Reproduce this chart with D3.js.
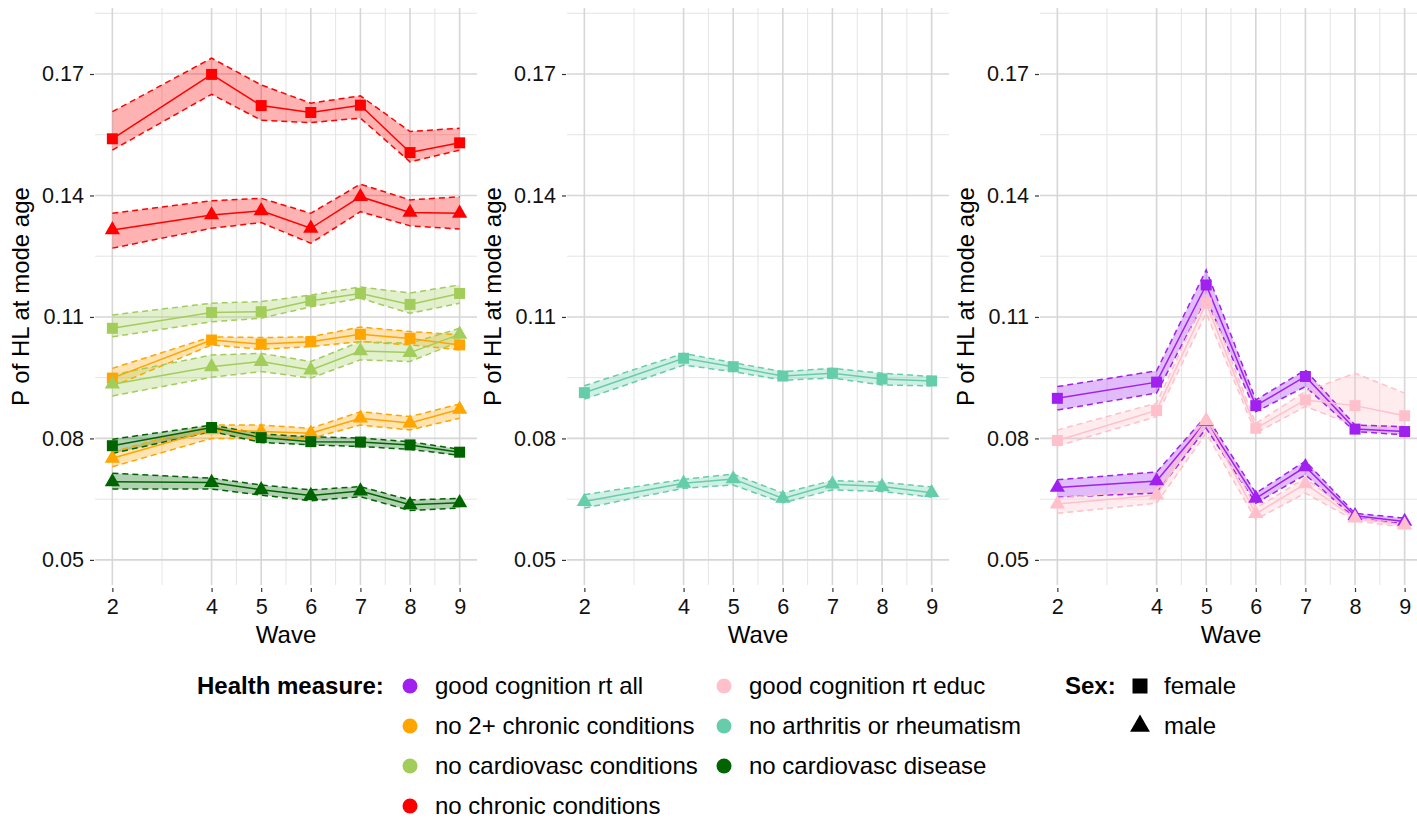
<!DOCTYPE html>
<html>
<head>
<meta charset="utf-8">
<script src="https://cdn.jsdelivr.net/npm/d3@7"></script>
<style>
  body { margin: 0; background: #fff; }
  text { font-family: "Liberation Sans", Arial, sans-serif; fill: #000; }
</style>
</head>
<body>
<div id="chart"></div>
<script>
var width = 1417, height = 822;

// data
var waves = [2, 4, 5, 6, 7, 8, 9];
var minorWaves = [3, 4.5, 5.5, 6.5, 7.5, 8.5];
var yTicks = [0.05, 0.08, 0.11, 0.14, 0.17];
var yMinor = [0.065, 0.095, 0.125, 0.155, 0.185];

var measureNames = ["good cognition rt all", "good cognition rt educ", "no 2+ chronic conditions",
  "no arthritis or rheumatism", "no cardiovasc conditions", "no cardiovasc disease", "no chronic conditions"];
var measureColors = ["#A020F0", "#FFC0CB", "#FFA500", "#66CDAA", "#A2CD5A", "#006400", "#FF0000"];
var sexNames = ["female", "male"];

// panel 1
var no2ChronicF   = [0.0949, 0.1043, 0.1033, 0.1039, 0.1057, 0.1047, 0.1031];
var no2ChronicFLo = [0.0928, 0.1031, 0.1020, 0.1027, 0.1039, 0.1031, 0.1019];
var no2ChronicFHi = [0.0973, 0.1051, 0.1049, 0.1051, 0.1075, 0.1064, 0.1056];
var no2ChronicM   = [0.0751, 0.0821, 0.0817, 0.0813, 0.0850, 0.0838, 0.0872];
var no2ChronicMLo = [0.0730, 0.0800, 0.0800, 0.0800, 0.0833, 0.0821, 0.0850];
var no2ChronicMHi = [0.0767, 0.0833, 0.0833, 0.0825, 0.0866, 0.0854, 0.0885];

var noCvCondF   = [0.1072, 0.1111, 0.1113, 0.1140, 0.1158, 0.1131, 0.1158];
var noCvCondFLo = [0.1051, 0.1088, 0.1097, 0.1125, 0.1146, 0.1109, 0.1134];
var noCvCondFHi = [0.1105, 0.1134, 0.1138, 0.1154, 0.1174, 0.1159, 0.1179];
var noCvCondM   = [0.0934, 0.0977, 0.0990, 0.0969, 0.1016, 0.1012, 0.1057];
var noCvCondMLo = [0.0905, 0.0951, 0.0965, 0.0949, 0.0994, 0.0990, 0.1039];
var noCvCondMHi = [0.0957, 0.1006, 0.1010, 0.0990, 0.1039, 0.1035, 0.1072];

var noCvDisF   = [0.0782, 0.0827, 0.0802, 0.0792, 0.0791, 0.0784, 0.0766];
var noCvDisFLo = [0.0763, 0.0817, 0.0790, 0.0784, 0.0780, 0.0773, 0.0758];
var noCvDisFHi = [0.0798, 0.0833, 0.0811, 0.0804, 0.0801, 0.0792, 0.0773];
var noCvDisM   = [0.0693, 0.0691, 0.0673, 0.0659, 0.0670, 0.0636, 0.0641];
var noCvDisMLo = [0.0675, 0.0675, 0.0660, 0.0646, 0.0656, 0.0622, 0.0628];
var noCvDisMHi = [0.0714, 0.0702, 0.0685, 0.0673, 0.0681, 0.0648, 0.0652];

var noChronicF   = [0.1540, 0.1699, 0.1622, 0.1605, 0.1623, 0.1506, 0.1530];
var noChronicFLo = [0.1512, 0.1650, 0.1586, 0.1580, 0.1591, 0.1483, 0.1512];
var noChronicFHi = [0.1607, 0.1739, 0.1673, 0.1628, 0.1646, 0.1558, 0.1566];
var noChronicM   = [0.1315, 0.1352, 0.1362, 0.1319, 0.1397, 0.1358, 0.1356];
var noChronicMLo = [0.1270, 0.1319, 0.1333, 0.1282, 0.1360, 0.1325, 0.1317];
var noChronicMHi = [0.1356, 0.1387, 0.1393, 0.1356, 0.1428, 0.1389, 0.1397];

// panel 2
var noArthF   = [0.0913, 0.0998, 0.0977, 0.0954, 0.0961, 0.0947, 0.0942];
var noArthFLo = [0.0897, 0.0981, 0.0965, 0.0944, 0.0949, 0.0932, 0.0930];
var noArthFHi = [0.0930, 0.1010, 0.0987, 0.0965, 0.0973, 0.0961, 0.0953];
var noArthM   = [0.0644, 0.0689, 0.0700, 0.0652, 0.0687, 0.0681, 0.0666];
var noArthMLo = [0.0628, 0.0677, 0.0685, 0.0641, 0.0673, 0.0669, 0.0655];
var noArthMHi = [0.0661, 0.0699, 0.0712, 0.0665, 0.0696, 0.0692, 0.0680];

// panel 3
var cogAllF   = [0.0899, 0.0939, 0.1179, 0.0881, 0.0953, 0.0823, 0.0817];
var cogAllFLo = [0.0870, 0.0912, 0.1146, 0.0866, 0.0928, 0.0817, 0.0809];
var cogAllFHi = [0.0928, 0.0967, 0.1216, 0.0895, 0.0969, 0.0833, 0.0829];
var cogAllM   = [0.0679, 0.0695, 0.0842, 0.0652, 0.0730, 0.0609, 0.0595];
var cogAllMLo = [0.0655, 0.0665, 0.0825, 0.0640, 0.0710, 0.0603, 0.0589];
var cogAllMHi = [0.0698, 0.0717, 0.0856, 0.0665, 0.0744, 0.0615, 0.0603];

var cogEducF   = [0.0795, 0.0869, 0.1134, 0.0825, 0.0895, 0.0881, 0.0856];
var cogEducFLo = [0.0781, 0.0854, 0.1109, 0.0813, 0.0879, 0.0832, 0.0829];
var cogEducFHi = [0.0821, 0.0887, 0.1154, 0.0837, 0.0916, 0.0961, 0.0912];
var cogEducM   = [0.0638, 0.0660, 0.0844, 0.0614, 0.0688, 0.0603, 0.0586];
var cogEducMLo = [0.0615, 0.0640, 0.0813, 0.0600, 0.0665, 0.0597, 0.0580];
var cogEducMHi = [0.0652, 0.0675, 0.0860, 0.0628, 0.0702, 0.0609, 0.0592];

// series table (panel, measure index, sex, est, lo, hi)
var series = [
  [0, 2, "female", no2ChronicF, no2ChronicFLo, no2ChronicFHi],
  [0, 2, "male", no2ChronicM, no2ChronicMLo, no2ChronicMHi],
  [0, 4, "female", noCvCondF, noCvCondFLo, noCvCondFHi],
  [0, 4, "male", noCvCondM, noCvCondMLo, noCvCondMHi],
  [0, 5, "female", noCvDisF, noCvDisFLo, noCvDisFHi],
  [0, 5, "male", noCvDisM, noCvDisMLo, noCvDisMHi],
  [0, 6, "female", noChronicF, noChronicFLo, noChronicFHi],
  [0, 6, "male", noChronicM, noChronicMLo, noChronicMHi],
  [1, 3, "female", noArthF, noArthFLo, noArthFHi],
  [1, 3, "male", noArthM, noArthMLo, noArthMHi],
  [2, 0, "female", cogAllF, cogAllFLo, cogAllFHi],
  [2, 0, "male", cogAllM, cogAllMLo, cogAllMHi],
  [2, 1, "female", cogEducF, cogEducFLo, cogEducFHi],
  [2, 1, "male", cogEducM, cogEducMLo, cogEducMHi]
].map(function(s) {
  return {
    panel: s[0], color: measureColors[s[1]], sex: s[2],
    pts: waves.map(function(w, i) { return { wave: w, est: s[3][i], lo: s[4][i], hi: s[5][i] } })
  }
})

var panelLefts = [95, 567, 1040];
var panelW = 382, panelTop = 8, panelBottom = 585;

var svg = d3.select("#chart")
  .append("svg")
  .attr("width", width)
  .attr("height", height);

var yScale = d3.scaleLinear()
  .domain([0.0438, 0.1863])
  .range([panelBottom, panelTop]);

panelLefts.forEach(function(left, p) {
  var xScale = d3.scaleLinear()
    .domain([1.65, 9.35])
    .range([left, left + panelW]);

  var g = svg.append("g").attr("class", "panel");

  // minor grid
  g.selectAll(".ymin").data(yMinor).enter().append("line")
    .attr("x1", left).attr("x2", left + panelW)
    .attr("y1", d => yScale(d)).attr("y2", d => yScale(d))
    .style("stroke", "#e4e4e4").style("stroke-width", 1);
  g.selectAll(".xmin").data(minorWaves).enter().append("line")
    .attr("y1", panelTop).attr("y2", panelBottom)
    .attr("x1", d => xScale(d)).attr("x2", d => xScale(d))
    .style("stroke", "#e4e4e4").style("stroke-width", 1);

  // major grid
  g.selectAll(".ymaj").data(yTicks).enter().append("line")
    .attr("x1", left).attr("x2", left + panelW)
    .attr("y1", d => yScale(d)).attr("y2", d => yScale(d))
    .style("stroke", "#d6d6d6").style("stroke-width", 1.6);
  g.selectAll(".xmaj").data(waves).enter().append("line")
    .attr("y1", panelTop).attr("y2", panelBottom)
    .attr("x1", d => xScale(d)).attr("x2", d => xScale(d))
    .style("stroke", "#d6d6d6").style("stroke-width", 1.6);

  // Y axis
  var yAxis = d3.axisLeft(yScale)
    .tickValues(yTicks)
    .tickSize(4)
    .tickPadding(6)
    .tickFormat(d3.format(".2f"));
  var ya = g.append("g")
    .attr("transform", `translate(${left - 1},0)`)
    .call(yAxis);
  ya.select(".domain").remove();
  ya.selectAll("line").style("stroke", "#333").style("stroke-width", 1.2);
  ya.selectAll("text").style("font-size", "21.6px").style("fill", "#111");

  // X axis
  var xAxis = d3.axisBottom(xScale)
    .tickValues(waves)
    .tickSize(4)
    .tickPadding(7)
    .tickFormat(d => d.toString());
  var xa = g.append("g")
    .attr("transform", `translate(0,${panelBottom + 3})`)
    .call(xAxis);
  xa.select(".domain").remove();
  xa.selectAll("line").style("stroke", "#333").style("stroke-width", 1.2);
  xa.selectAll("text").style("font-size", "21.6px").style("fill", "#111");

  // axis titles
  g.append("text")
    .attr("transform", `translate(${left - 74},${(panelTop + panelBottom) / 2}) rotate(-90)`)
    .attr("dy", "0.35em")
    .style("text-anchor", "middle")
    .style("font-size", "24px")
    .text("P of HL at mode age");
  g.append("text")
    .attr("x", left + panelW / 2)
    .attr("y", 635)
    .attr("dy", "0.35em")
    .style("text-anchor", "middle")
    .style("font-size", "24px")
    .text("Wave");

  var ps = series.filter(s => s.panel === p);

  var area = d3.area()
    .x(d => xScale(d.wave))
    .y0(d => yScale(d.lo))
    .y1(d => yScale(d.hi));
  var lineLo = d3.line().x(d => xScale(d.wave)).y(d => yScale(d.lo));
  var lineHi = d3.line().x(d => xScale(d.wave)).y(d => yScale(d.hi));
  var lineEst = d3.line().x(d => xScale(d.wave)).y(d => yScale(d.est));

  // ribbons
  g.selectAll(".ribbon").data(ps).enter().append("path")
    .attr("d", d => area(d.pts))
    .style("fill", d => d.color)
    .style("fill-opacity", 0.3);

  // dashed bounds
  [lineLo, lineHi].forEach(function(fn) {
    g.selectAll(".bound").data(ps).enter().append("path")
      .attr("d", d => fn(d.pts))
      .style("fill", "none")
      .style("stroke", d => d.color)
      .style("stroke-width", 1.5)
      .style("stroke-dasharray", "6,4");
  });

  // estimate lines
  g.selectAll(".est").data(ps).enter().append("path")
    .attr("d", d => lineEst(d.pts))
    .style("fill", "none")
    .style("stroke", d => d.color)
    .style("stroke-width", 1.5);

  // points
  ps.forEach(function(s) {
    var sym = s.sex === "female"
      ? d3.symbol().type(d3.symbolSquare).size(121)
      : d3.symbol().type(d3.symbolTriangle).size(100);
    g.selectAll(null).data(s.pts).enter().append("path")
      .attr("d", sym)
      .attr("transform", d => `translate(${xScale(d.wave)},${yScale(d.est)})`)
      .style("fill", s.color);
  });
});

// legend: health measure
var legendRows = [686, 726, 766, 806];
var legendCols = [410, 724];

svg.append("text")
  .attr("x", 197).attr("y", legendRows[0])
  .attr("dy", "0.35em")
  .style("font-size", "24px")
  .style("font-weight", "bold")
  .text("Health measure:");

var items = svg.selectAll(".legend-item")
  .data(measureNames)
  .enter()
  .append("g")
  .attr("transform", (d, i) => `translate(${legendCols[i % 2]},${legendRows[Math.floor(i / 2)]})`);
items.append("circle")
  .attr("r", 7.5)
  .style("fill", (d, i) => measureColors[i]);
items.append("text")
  .attr("x", 25)
  .attr("dy", "0.35em")
  .style("font-size", "24px")
  .text(d => d);

// legend: sex
svg.append("text")
  .attr("x", 1065).attr("y", legendRows[0])
  .attr("dy", "0.35em")
  .style("font-size", "24px")
  .style("font-weight", "bold")
  .text("Sex:");

var sexItems = svg.selectAll(".sex-item")
  .data(sexNames)
  .enter()
  .append("g")
  .attr("transform", (d, i) => `translate(1140,${legendRows[i]})`);
sexItems.append("path")
  .attr("d", (d, i) => i === 0
    ? d3.symbol().type(d3.symbolSquare).size(225)()
    : d3.symbol().type(d3.symbolTriangle).size(170)())
  .style("fill", "#000");
sexItems.append("text")
  .attr("x", 24)
  .attr("dy", "0.35em")
  .style("font-size", "24px")
  .text(d => d);
</script>
</body>
</html>
